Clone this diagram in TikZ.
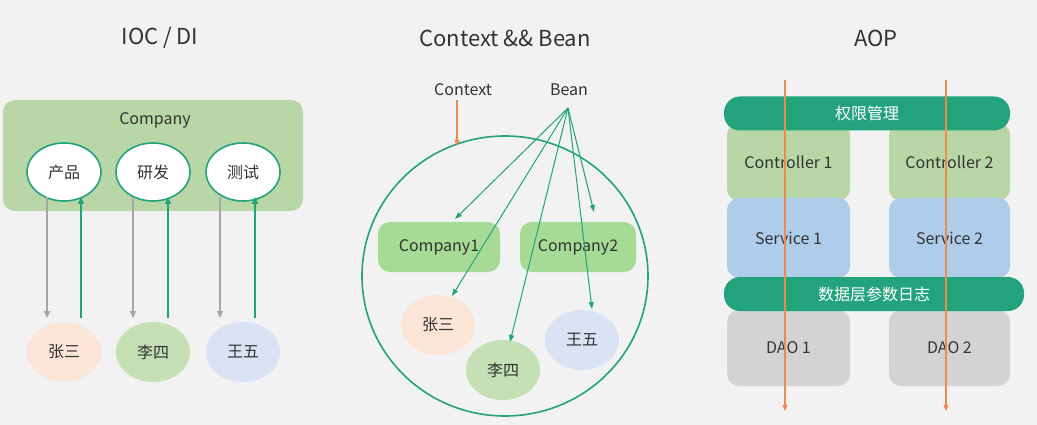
\documentclass[tikz,border=0pt]{standalone}
\usepackage{fontspec}
\setmainfont{Noto Sans CJK SC}
\usetikzlibrary{arrows.meta}
\definecolor{bg}{HTML}{F2F2F2}
\definecolor{grn}{HTML}{B9D7A6}
\definecolor{dgrn}{HTML}{22A37C}
\definecolor{peach}{HTML}{FBE5D6}
\definecolor{lgrn}{HTML}{C5E0B4}
\definecolor{lblue}{HTML}{DAE3F3}
\definecolor{sblue}{HTML}{AECDEA}
\definecolor{gry}{HTML}{D3D3D3}
\definecolor{org}{HTML}{EE8A4E}
\definecolor{txt}{HTML}{333333}
\tikzset{
 x=1pt,y=-1pt,
 every node/.style={text=txt,font=\fontsize{16}{19}\selectfont},
 title/.style={font=\fontsize{22}{26}\selectfont},
 dept/.style={ellipse,draw=dgrn,line width=1.6pt,fill=white,minimum width=74,minimum height=58,inner sep=0},
 person/.style={ellipse,minimum width=74,minimum height=60,inner sep=0},
 box/.style={rounded corners=12,inner sep=0},
 bar/.style={rounded corners=16,fill=dgrn,inner sep=0,text=white},
 garr/.style={draw=gray!70,line width=1.6pt,-{Triangle[width=6pt,length=7pt]}},
 carr/.style={draw=dgrn,line width=1.6pt,-{Triangle[width=6pt,length=7pt]}},
 barr/.style={draw=dgrn,line width=1pt,-{Triangle[width=5pt,length=7pt]}},
 oarr/.style={draw=org,line width=1.2pt,-{Triangle[width=5pt,length=6pt]}},
}
\usetikzlibrary{shapes.geometric}
\begin{document}
\begin{tikzpicture}
\fill[bg] (0,0) rectangle (1037,425);
\useasboundingbox (0,0) rectangle (1037,425);
% titles
\node[title] (t1) at (160,38) {IOC / DI};
\node[title] (t2) at (505,38) {Context \&\& Bean};
\node[title] (t3) at (876,38) {AOP};
% IOC
\node[box,fill=grn,minimum width=300,minimum height=111] (comp) at (153,155.5) {};
\node (compl) at (155,120) {Company};
\node[dept] (d1) at (64,172) {产品};
\node[dept] (d2) at (153,172) {研发};
\node[dept] (d3) at (243,172) {测试};
\node[person,fill=peach] (p1) at (64,352) {张三};
\node[person,fill=lgrn] (p2) at (153,352) {李四};
\node[person,fill=lblue] (p3) at (243,352) {王五};
\foreach \i/\gx/\cx in {1/47/81,2/133/168,3/220/255}{
 \coordinate (ga\i) at (\gx,197); \coordinate (gb\i) at (\gx,318);
 \coordinate (ca\i) at (\cx,318); \coordinate (cb\i) at (\cx,197);
 \draw[garr] (ga\i) -- (gb\i);
 \draw[carr] (ca\i) -- (cb\i);
}
% Context
\node (ctx) at (463,90) {Context};
\node (bean) at (569,90) {Bean};
\node[circle,draw=dgrn,line width=1.6pt,minimum width=286,minimum height=280,inner sep=0,ellipse] (big) at (505,276) {};
\coordinate (ctxa) at (457,100); \coordinate (ctxb) at (457,146);
\draw[oarr] (ctxa) -- (ctxb);
\node[box,fill=grn!90!green,minimum width=122,minimum height=50] (c1) at (439,247) {Company1};
\node[box,fill=grn!90!green,minimum width=116,minimum height=50] (c2) at (578,247) {Company2};
\node[person,fill=peach] (q1) at (438,325) {张三};
\node[person,fill=lgrn] (q2) at (503,370) {李四};
\node[person,fill=lblue] (q3) at (582,340) {王五};
\coordinate (bs) at (568,108);
\coordinate (e1) at (455,219); \coordinate (e2) at (594,212);
\coordinate (e3) at (452,296); \coordinate (e4) at (510,342); \coordinate (e5) at (592,309);
\foreach \e in {e1,e2,e3,e4,e5}{\draw[barr] (bs) -- (\e);}
% AOP
\node[box,fill=grn,minimum width=123,minimum height=78] (k1) at (788.5,162) {Controller 1};
\node[box,fill=grn,minimum width=121,minimum height=78] (k2) at (949.5,162) {Controller 2};
\node[box,fill=sblue,minimum width=123,minimum height=80] (s1) at (788.5,238) {Service 1};
\node[box,fill=sblue,minimum width=121,minimum height=80] (s2) at (949.5,238) {Service 2};
\node[box,fill=gry,minimum width=123,minimum height=76] (a1) at (788.5,348) {DAO 1};
\node[box,fill=gry,minimum width=121,minimum height=76] (a2) at (949.5,348) {DAO 2};
\node[bar,minimum width=286,minimum height=34] (b1) at (867,113.5) {权限管理};
\node[bar,minimum width=300,minimum height=34] (b2) at (874,294) {数据层参数日志};
\coordinate (o1a) at (785,80); \coordinate (o1b) at (785,411);
\coordinate (o2a) at (946,80); \coordinate (o2b) at (946,411);
\draw[oarr] (o1a) -- (o1b);
\draw[oarr] (o2a) -- (o2b);
\end{tikzpicture}
\end{document}
